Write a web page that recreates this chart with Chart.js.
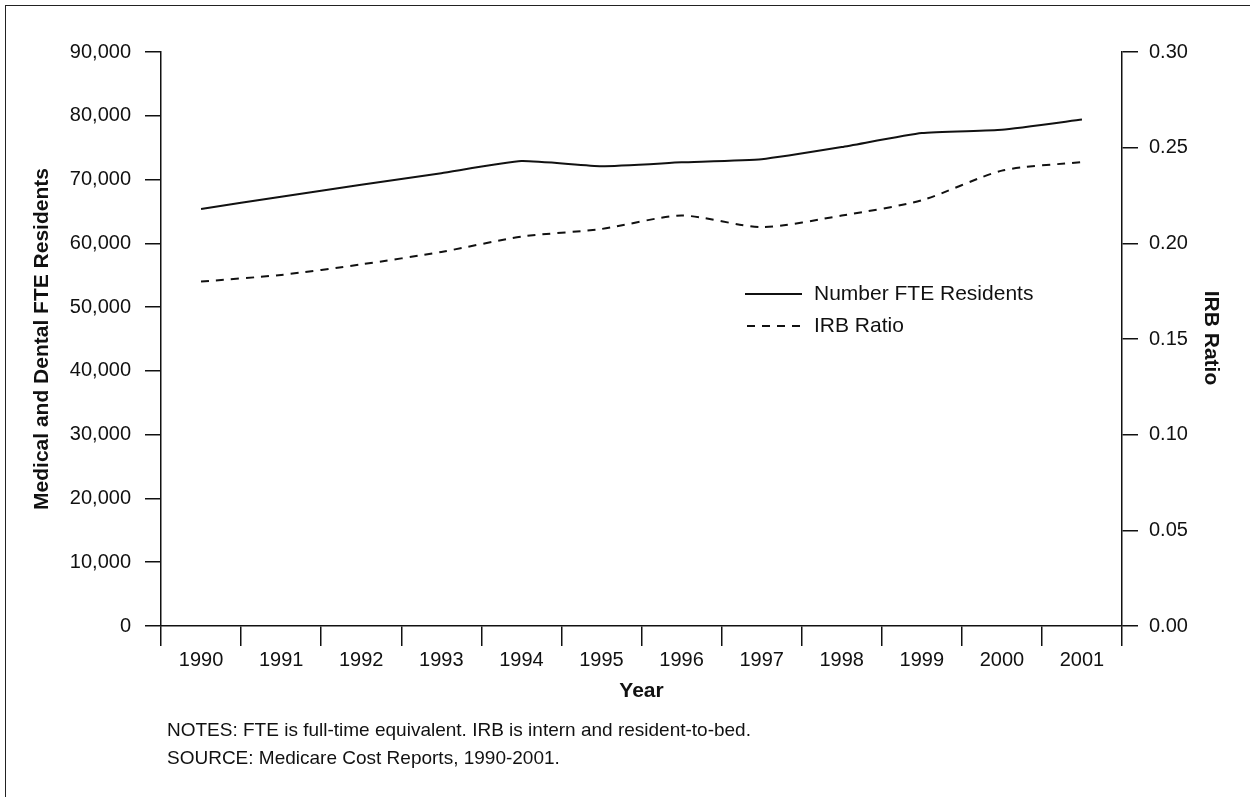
<!DOCTYPE html>
<html>
<head>
<meta charset="utf-8">
<script src="https://cdn.jsdelivr.net/npm/chart.js@4.4.1/dist/chart.umd.min.js"></script>
<style>
  html, body { margin: 0; padding: 0; background: #fff; }
  #wrap { position: relative; width: 1250px; height: 797px; overflow: hidden; }
  #frame { position: absolute; left: 5px; top: 5px; width: 1260px; height: 800px; border-left: 1.5px solid #222; border-top: 1.5px solid #222; box-sizing: border-box; }
  canvas { position: absolute; left: 0; top: 0; }
  .note { position: absolute; left: 167px; font-family: "Liberation Sans", Arial, sans-serif; font-size: 19px; line-height: 22px; color: #111; white-space: nowrap; }
</style>
</head>
<body>
<div id="wrap">
  <div id="frame"></div>
  <canvas id="c" width="1250" height="797"></canvas>
  <div class="note" style="top:719px">NOTES: FTE is full-time equivalent. IRB is intern and resident-to-bed.</div>
  <div class="note" style="top:747px">SOURCE: Medicare Cost Reports, 1990-2001.</div>
</div>
<script>
const years = ["1990","1991","1992","1993","1994","1995","1996","1997","1998","1999","2000","2001"];
const fteResidents = [65400, 67300, 69200, 71000, 72900, 72100, 72700, 73200, 75100, 77300, 77800, 79400];
const irbRatio = [0.180, 0.1835, 0.189, 0.1955, 0.2035, 0.2075, 0.2145, 0.2085, 0.2145, 0.2225, 0.238, 0.2425];
const leftTicks = [0, 10000, 20000, 30000, 40000, 50000, 60000, 70000, 80000, 90000];
const rightTicks = [0, 0.05, 0.10, 0.15, 0.20, 0.25, 0.30];
const seriesNames = ["Number FTE Residents", "IRB Ratio"];
const titles = { left: "Medical and Dental FTE Residents", right: "IRB Ratio", x: "Year" };

const FONT = '"Liberation Sans", Arial, sans-serif';
const INK = '#111';
const DASH = [8, 7];

const overlay = {
  id: 'overlay',
  afterDraw(chart) {
    const ctx = chart.ctx;
    const a = chart.chartArea;
    ctx.save();
    ctx.fillStyle = INK;
    ctx.font = 'bold 21px ' + FONT;
    ctx.textAlign = 'center';
    ctx.textBaseline = 'middle';
    ctx.save();
    ctx.translate(42, (a.top + a.bottom) / 2);
    ctx.rotate(-Math.PI / 2);
    ctx.fillText(titles.left, 0, 0);
    ctx.restore();
    ctx.save();
    ctx.translate(1211, (a.top + a.bottom) / 2 - 1);
    ctx.rotate(Math.PI / 2);
    ctx.fillText(titles.right, 0, 0);
    ctx.restore();
    ctx.fillText(titles.x, (a.left + a.right) / 2, 691);
    // legend
    ctx.font = '21px ' + FONT;
    ctx.textAlign = 'left';
    ctx.strokeStyle = INK;
    ctx.lineWidth = 2;
    const lx0 = 745, lx1 = 802, tx = 814;
    const rows = [294, 326];
    ctx.setLineDash([]);
    ctx.beginPath(); ctx.moveTo(lx0, rows[0]); ctx.lineTo(lx1, rows[0]); ctx.stroke();
    ctx.setLineDash(DASH);
    ctx.beginPath(); ctx.moveTo(lx0 + 2, rows[1]); ctx.lineTo(lx1 + 2, rows[1]); ctx.stroke();
    ctx.setLineDash([]);
    ctx.fillText(seriesNames[0], tx, rows[0]);
    ctx.fillText(seriesNames[1], tx, rows[1]);
    ctx.restore();
  }
};

new Chart(document.getElementById('c'), {
  type: 'line',
  data: {
    labels: years,
    datasets: [
      { label: seriesNames[0], data: fteResidents, yAxisID: 'y', borderColor: INK, borderWidth: 2, pointRadius: 0, tension: 0.15, fill: false },
      { label: seriesNames[1], data: irbRatio, yAxisID: 'y1', borderColor: INK, borderWidth: 2, borderDash: DASH, pointRadius: 0, tension: 0.25, fill: false }
    ]
  },
  options: {
    responsive: false,
    animation: false,
    devicePixelRatio: 1,
    layout: { padding: { top: 52, left: 0, right: 0, bottom: 0 } },
    plugins: { legend: { display: false }, tooltip: { enabled: false } },
    scales: {
      x: {
        type: 'category',
        offset: true,
        grid: { display: true, offset: true, drawOnChartArea: false, drawTicks: true, tickLength: 20, color: INK, lineWidth: 1.5 },
        border: { display: true, color: INK, width: 1.5 },
        ticks: { color: INK, font: { family: FONT, size: 20 }, padding: 2, maxRotation: 0, autoSkip: false },
        afterFit(s) { s.height = 797 - 626; }
      },
      y: {
        position: 'left',
        min: 0, max: 90000,
        afterBuildTicks(s) { s.ticks = leftTicks.map(v => ({ value: v })); },
        grid: { display: true, drawOnChartArea: false, drawTicks: true, tickLength: 16, color: INK, lineWidth: 1.5 },
        border: { display: true, color: INK, width: 1.5 },
        ticks: { color: INK, font: { family: FONT, size: 20 }, padding: 14, callback: v => v.toLocaleString('en-US') },
        afterFit(s) { s.width = 161; }
      },
      y1: {
        position: 'right',
        min: 0, max: 0.30,
        afterBuildTicks(s) { s.ticks = rightTicks.map(v => ({ value: v })); },
        grid: { display: true, drawOnChartArea: false, drawTicks: true, tickLength: 16, color: INK, lineWidth: 1.5 },
        border: { display: true, color: INK, width: 1.5 },
        ticks: { color: INK, font: { family: FONT, size: 20 }, padding: 11, callback: v => v.toFixed(2) },
        afterFit(s) { s.width = 1250 - 1122; }
      }
    }
  },
  plugins: [overlay]
});
</script>
</body>
</html>
